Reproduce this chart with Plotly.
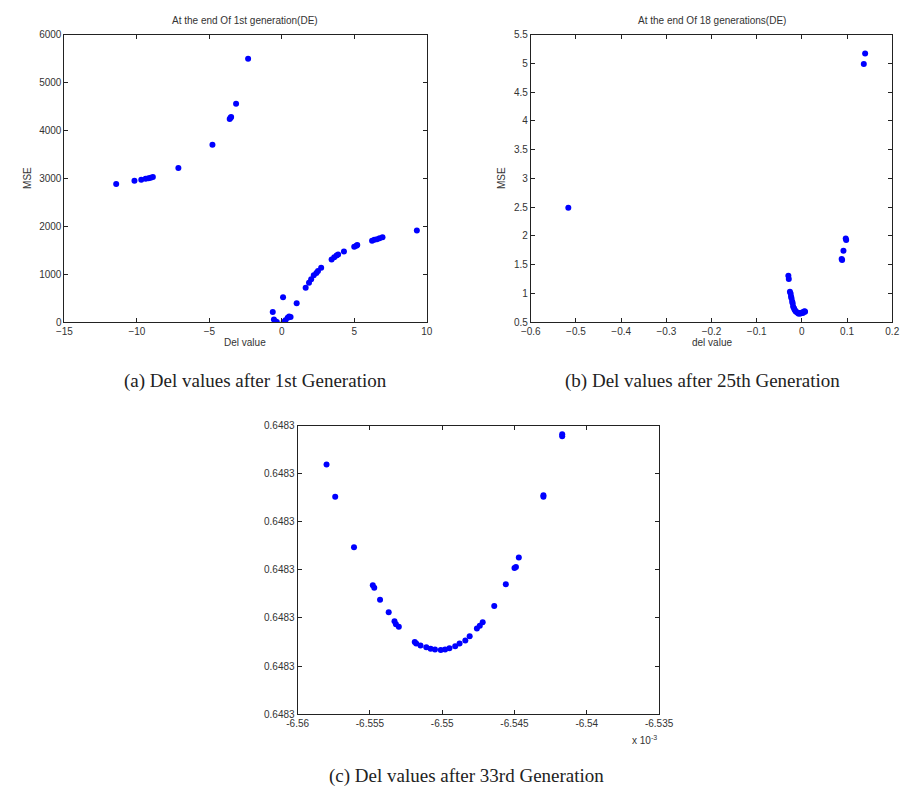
import plotly.graph_objects as go

# ---------- Panel (a): after 1st generation ----------
a_del = [-11.43, -10.17, -9.7, -9.4, -9.2, -9.05, -8.9, -7.14, -4.79, -3.6, -3.54, -3.5,
         -3.16, -2.33,
         -0.63, -0.55, -0.45, -0.35, 0.08, 0.12, 0.25, 0.4, 0.5, 0.6, 1.02, 1.64, 1.87,
         2.02, 2.2, 2.38, 2.49, 2.71, 3.43, 3.61, 3.77, 3.88, 4.28, 4.99, 5.14, 5.2,
         6.22, 6.38, 6.56, 6.74, 6.94, 9.31]
a_mse = [2881, 2951, 2970, 2990, 3000, 3015, 3030, 3217, 3703, 4240, 4264, 4280,
         4558, 5497,
         212, 55, 20, 5, 520, 5, 40, 90, 120, 110, 397, 719, 821,
         897, 979, 1027, 1068, 1136, 1307, 1355, 1390, 1410, 1472, 1575, 1595, 1610,
         1697, 1718, 1731, 1752, 1773, 1914]

# ---------- Panel (b): after 18/25 generations ----------
b_del = [-0.517, 0.140, 0.137, 0.097, 0.098, 0.092, 0.088, 0.089,
         -0.030, -0.029, -0.0265, -0.025, -0.024, -0.023, -0.0215, -0.0205, -0.0194,
         -0.0175, -0.016, -0.014, -0.012, -0.009, -0.007, -0.005, -0.003, 0.0007,
         0.002, 0.004, 0.006, 0.007]
b_mse = [2.49, 5.17, 4.99, 1.955, 1.93, 1.74, 1.60, 1.58,
         1.305, 1.25, 1.03, 1.0, 0.945, 0.916, 0.86, 0.83, 0.774,
         0.74, 0.717, 0.69, 0.676, 0.66, 0.645, 0.66, 0.65, 0.67,
         0.66, 0.68, 0.69, 0.68]

# ---------- Panel (c): after 33rd generation (x in units of 1e-3) ----------
c_del = [-6.5580, -6.5574, -6.5561, -6.5548, -6.5547, -6.5543, -6.5537, -6.5533,
         -6.5532, -6.5530, -6.5519, -6.5518, -6.5515, -6.5511, -6.5508, -6.5505,
         -6.5501, -6.5498, -6.5495, -6.5491, -6.5488, -6.5484, -6.5481, -6.5476,
         -6.5474, -6.5472, -6.5464, -6.5456, -6.5450, -6.5449, -6.5447, -6.5430,
         -6.5430, -6.5417, -6.5417]
# MSE offsets above 0.6483, in units of 1e-8
c_mse_off = [5.19, 4.52, 3.47, 2.68, 2.63, 2.38, 2.12, 1.93,
             1.87, 1.82, 1.50, 1.47, 1.43, 1.39, 1.36, 1.345,
             1.333, 1.345, 1.37, 1.41, 1.47, 1.53, 1.62, 1.78,
             1.84, 1.91, 2.25, 2.70, 3.04, 3.06, 3.26, 4.52,
             4.55, 5.78, 5.82]
c_base = 0.6483
c_scale = 1e-8
c_mse = [c_base + v * c_scale for v in c_mse_off]
c_xticks = [-6.56, -6.555, -6.55, -6.545, -6.54, -6.535]
c_xticktext = ["-6.56", "-6.555", "-6.55", "-6.545", "-6.54", "-6.535"]

W, H = 916, 797


def px(x):
    return x / W


def py(y):
    return 1 - y / H


marker = dict(color="#0000ff", size=6, symbol="circle")
fig = go.Figure()
fig.add_trace(go.Scatter(x=a_del, y=a_mse, mode="markers", marker=marker, xaxis="x", yaxis="y"))
fig.add_trace(go.Scatter(x=b_del, y=b_mse, mode="markers", marker=marker, xaxis="x2", yaxis="y2"))
fig.add_trace(go.Scatter(x=c_del, y=c_mse, mode="markers", marker=marker, xaxis="x3", yaxis="y3"))

tickfont = dict(family="Liberation Sans, Arial", size=10, color="#333333")
common = dict(showline=True, linecolor="#222222", linewidth=1, mirror="ticks",
              ticks="inside", ticklen=4, tickcolor="#222222", showgrid=False,
              zeroline=False, tickfont=tickfont)

fig.update_layout(
    width=W, height=H, autosize=False,
    margin=dict(l=0, r=0, t=0, b=0),
    plot_bgcolor="white", paper_bgcolor="white",
    showlegend=False,
    xaxis=dict(domain=[px(55), px(428)], range=[-15, 10], tickvals=[-15, -10, -5, 0, 5, 10],
               anchor="y", **common),
    yaxis=dict(domain=[py(321), py(29)], range=[0, 6000], dtick=1000, anchor="x", **common),
    xaxis2=dict(domain=[px(535), px(907)], range=[-0.6, 0.2], dtick=0.1, tick0=-0.6,
                anchor="y2", **common),
    yaxis2=dict(domain=[py(321), py(29)], range=[0.5, 5.5], dtick=0.5, tick0=0.5,
                anchor="x2", **common),
    xaxis3=dict(domain=[px(295), px(667)], range=[-6.56, -6.535], tickvals=c_xticks,
                ticktext=c_xticktext, anchor="y3", **common),
    yaxis3=dict(domain=[py(719), py(426)], range=[c_base, c_base + 6 * c_scale],
                tickvals=[c_base + i * c_scale for i in range(7)], tickformat=".4f",
                anchor="x3", **common),
)

small = dict(family="Liberation Sans, Arial", size=10, color="#333333")
serif = dict(family="Liberation Serif, DejaVu Serif", size=19, color="#222222")
ann = [
    dict(text="At the end Of 1st generation(DE)", x=px(241), y=py(15), font=small),
    dict(text="At the end Of 18 generations(DE)", x=px(721), y=py(15), font=small),
    dict(text="Del value", x=px(241), y=py(342), font=small),
    dict(text="del value", x=px(721), y=py(342), font=small),
    dict(text="MSE", x=px(17), y=py(175), font=small, textangle=-90),
    dict(text="MSE", x=px(505), y=py(175), font=small, textangle=-90),
    dict(text="x 10<sup>-3</sup>", x=px(652), y=py(745), font=small),
    dict(text="(a) Del values after 1st Generation", x=px(252), y=py(381), font=serif),
    dict(text="(b) Del values after 25th Generation", x=px(712), y=py(381), font=serif),
    dict(text="(c) Del values after 33rd Generation", x=px(469), y=py(782), font=serif),
]
for a in ann:
    a.update(xref="paper", yref="paper", showarrow=False, xanchor="center", yanchor="middle")
fig.update_layout(annotations=ann)

fig.write_html("out.html")
